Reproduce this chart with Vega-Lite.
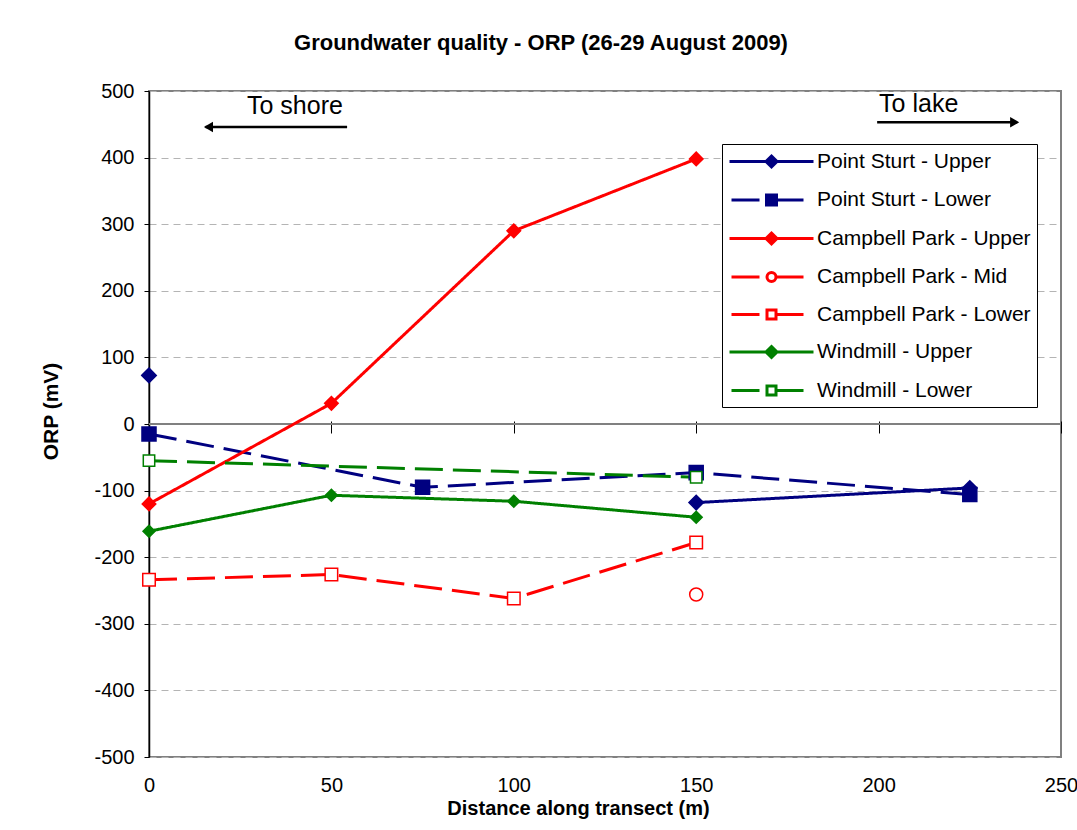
{
  "$schema": "https://vega.github.io/schema/vega-lite/v6.json",
  "width": 912,
  "height": 666,
  "autosize": {"type": "none"},
  "padding": {"left": 149, "top": 91, "right": 16, "bottom": 73},
  "background": "white",
  "title": {
    "text": "Groundwater quality - ORP (26-29 August 2009)",
    "font": "Liberation Sans",
    "fontSize": 22,
    "fontWeight": "bold",
    "color": "black",
    "anchor": "middle",
    "frame": "group",
    "baseline": "alphabetic",
    "offset": 9,
    "dx": -64
  },
  "datasets": {
    "orp": [
      {"series": "Point Sturt - Upper", "distance": 0, "orp": 73},
      {"series": "Point Sturt - Upper", "distance": 50, "orp": null},
      {"series": "Point Sturt - Upper", "distance": 150, "orp": -118},
      {"series": "Point Sturt - Upper", "distance": 225, "orp": -96},
      {"series": "Point Sturt - Lower", "distance": 0, "orp": -15},
      {"series": "Point Sturt - Lower", "distance": 75, "orp": -95},
      {"series": "Point Sturt - Lower", "distance": 150, "orp": -73},
      {"series": "Point Sturt - Lower", "distance": 225, "orp": -106},
      {"series": "Campbell Park - Upper", "distance": 0, "orp": -120},
      {"series": "Campbell Park - Upper", "distance": 50, "orp": 31},
      {"series": "Campbell Park - Upper", "distance": 100, "orp": 290},
      {"series": "Campbell Park - Upper", "distance": 150, "orp": 398},
      {"series": "Campbell Park - Mid", "distance": 150, "orp": -256},
      {"series": "Campbell Park - Lower", "distance": 0, "orp": -234},
      {"series": "Campbell Park - Lower", "distance": 50, "orp": -226},
      {"series": "Campbell Park - Lower", "distance": 100, "orp": -262},
      {"series": "Campbell Park - Lower", "distance": 150, "orp": -178},
      {"series": "Windmill - Upper", "distance": 0, "orp": -161},
      {"series": "Windmill - Upper", "distance": 50, "orp": -107},
      {"series": "Windmill - Upper", "distance": 100, "orp": -116},
      {"series": "Windmill - Upper", "distance": 150, "orp": -140},
      {"series": "Windmill - Lower", "distance": 0, "orp": -55},
      {"series": "Windmill - Lower", "distance": 150, "orp": -80}
    ],
    "notes": [
      {"label": "To shore", "x": 40, "y": 477},
      {"label": "To lake", "x": 211, "y": 480}
    ],
    "arrows": [
      {"x": 15.5, "x2": 54.3, "y": 446},
      {"x": 199.6, "x2": 238, "y": 453}
    ],
    "heads": [
      {"x": 16.3, "y": 446, "dir": "left"},
      {"x": 237.3, "y": 453, "dir": "right"}
    ]
  },
  "layer": [
    {
      "data": {"values": [{}]},
      "mark": {"type": "rule", "color": "#808080", "strokeWidth": 2},
      "encoding": {
        "y": {
          "datum": 0,
          "type": "quantitative",
          "scale": {"domain": [-500, 500], "nice": false},
          "axis": {
            "values": [-500, -400, -300, -200, -100, 0, 100, 200, 300, 400, 500],
            "labelExpr": "datum.value < 0 ? '-' + abs(datum.value) : '' + datum.value",
            "grid": true,
            "gridColor": "#b4b4b4",
            "gridDash": [7, 5],
            "gridWidth": 1,
            "domainColor": "black",
            "domainWidth": 1.5,
            "tickColor": "black",
            "tickSize": 5,
            "labelFont": "Liberation Sans",
            "labelFontSize": 20,
            "labelColor": "black",
            "labelPadding": 10,
            "title": "ORP (mV)",
            "titleFont": "Liberation Sans",
            "titleFontSize": 21,
            "titleFontWeight": "bold",
            "titleColor": "black",
            "titlePadding": 32,
            "titleY": 320
          }
        }
      }
    },
    {
      "data": {"name": "orp"},
      "mark": {"type": "line", "strokeWidth": 3, "invalid": "break-paths-filter-domains"},
      "encoding": {
        "x": {
          "field": "distance",
          "type": "quantitative",
          "scale": {"domain": [0, 250], "nice": false},
          "axis": {
            "values": [0, 50, 100, 150, 200, 250],
            "ticks": false,
            "domain": false,
            "grid": false,
            "labelFont": "Liberation Sans",
            "labelFontSize": 20,
            "labelColor": "black",
            "labelPadding": 18,
            "labelFlush": false,
            "title": "Distance along transect (m)",
            "titleFont": "Liberation Sans",
            "titleFontSize": 20,
            "titleFontWeight": "bold",
            "titleColor": "black",
            "titlePadding": 3,
            "titleX": 429
          }
        },
        "y": {"field": "orp", "type": "quantitative"},
        "stroke": {
          "field": "series",
          "type": "nominal",
          "scale": {
            "domain": ["Point Sturt - Upper", "Point Sturt - Lower", "Campbell Park - Upper", "Campbell Park - Mid", "Campbell Park - Lower", "Windmill - Upper", "Windmill - Lower"],
            "range": ["#000080", "#000080", "#FF0000", "#FF0000", "#FF0000", "#008000", "#008000"]
          },
          "legend": null
        },
        "strokeDash": {
          "field": "series",
          "type": "nominal",
          "scale": {
            "domain": ["Point Sturt - Upper", "Point Sturt - Lower", "Campbell Park - Upper", "Campbell Park - Mid", "Campbell Park - Lower", "Windmill - Upper", "Windmill - Lower"],
            "range": [[1, 0], [28, 10], [1, 0], [28, 10], [28, 10], [1, 0], [28, 10]]
          },
          "legend": null
        }
      }
    },
    {
      "data": {"name": "orp"},
      "mark": {"type": "point", "strokeWidth": 1.5, "opacity": 1},
      "encoding": {
        "x": {
          "field": "distance",
          "type": "quantitative",
          "axis": {
            "orient": "top",
            "offset": -342,
            "values": [0, 50, 100, 150, 200, 250],
            "labels": false,
            "domain": false,
            "grid": false,
            "ticks": true,
            "tickSize": 12,
            "tickColor": "black",
            "tickWidth": 1,
            "title": null
          }
        },
        "y": {"field": "orp", "type": "quantitative"},
        "shape": {
          "field": "series",
          "type": "nominal",
          "scale": {
            "domain": ["Point Sturt - Upper", "Point Sturt - Lower", "Campbell Park - Upper", "Campbell Park - Mid", "Campbell Park - Lower", "Windmill - Upper", "Windmill - Lower"],
            "range": ["diamond", "square", "diamond", "circle", "square", "diamond", "square"]
          },
          "legend": null
        },
        "stroke": {
          "field": "series",
          "type": "nominal",
          "scale": {
            "domain": ["Point Sturt - Upper", "Point Sturt - Lower", "Campbell Park - Upper", "Campbell Park - Mid", "Campbell Park - Lower", "Windmill - Upper", "Windmill - Lower"],
            "range": ["#000080", "#000080", "#FF0000", "#FF0000", "#FF0000", "#008000", "#008000"]
          },
          "legend": null
        },
        "fill": {
          "field": "series",
          "type": "nominal",
          "scale": {
            "domain": ["Point Sturt - Upper", "Point Sturt - Lower", "Campbell Park - Upper", "Campbell Park - Mid", "Campbell Park - Lower", "Windmill - Upper", "Windmill - Lower"],
            "range": ["#000080", "#000080", "#FF0000", "#FFFFFF", "#FFFFFF", "#008000", "#FFFFFF"]
          },
          "legend": null
        },
        "size": {
          "field": "series",
          "type": "nominal",
          "scale": {
            "domain": ["Point Sturt - Upper", "Point Sturt - Lower", "Campbell Park - Upper", "Campbell Park - Mid", "Campbell Park - Lower", "Windmill - Upper", "Windmill - Lower"],
            "range": [210, 130, 210, 110, 110, 210, 110]
          },
          "legend": null
        }
      }
    },
    {
      "data": {"name": "arrows"},
      "mark": {"type": "rule", "color": "black", "strokeWidth": 2.5},
      "encoding": {
        "x": {"field": "x", "type": "quantitative", "axis": null},
        "x2": {"field": "x2"},
        "y": {"field": "y", "type": "quantitative"}
      }
    },
    {
      "data": {"name": "heads"},
      "mark": {"type": "point", "filled": true, "color": "black", "size": 110, "opacity": 1},
      "encoding": {
        "x": {"field": "x", "type": "quantitative", "axis": null},
        "y": {"field": "y", "type": "quantitative"},
        "shape": {
          "field": "dir",
          "type": "nominal",
          "scale": {"domain": ["left", "right"], "range": ["triangle-left", "triangle-right"]},
          "legend": null
        }
      }
    },
    {
      "data": {"name": "notes"},
      "mark": {"type": "text", "font": "Liberation Sans", "fontSize": 25, "color": "black", "baseline": "middle", "align": "center"},
      "encoding": {
        "x": {"field": "x", "type": "quantitative", "axis": null},
        "y": {"field": "y", "type": "quantitative"},
        "text": {"field": "label"}
      }
    },
    {
      "data": {"name": "orp"},
      "transform": [{"filter": "datum.orp > 100000"}],
      "mark": {"type": "point", "opacity": 1},
      "encoding": {
        "x": {"field": "distance", "type": "quantitative", "axis": null},
        "y": {"field": "orp", "type": "quantitative"},
        "shape": {
          "field": "series",
          "type": "nominal",
          "scale": {
            "domain": ["Point Sturt - Upper", "Point Sturt - Lower", "Campbell Park - Upper", "Campbell Park - Mid", "Campbell Park - Lower", "Windmill - Upper", "Windmill - Lower"],
            "range": [
              "M-1,0L7.4,0M3.2,-0.55L3.75,0L3.2,0.55L2.65,0Z",
              "M-0.8,0L2,0M3.7,0L6.4,0M2.7,-0.5L3.7,-0.5L3.7,0.5L2.7,0.5Z",
              "M-1,0L7.4,0M3.2,-0.55L3.75,0L3.2,0.55L2.65,0Z",
              "M-0.8,0L2,0M3.75,0L6.4,0M3.65,0A0.45,0.45 0 1 1 2.75,0A0.45,0.45 0 1 1 3.65,0Z",
              "M-0.8,0L2,0M3.75,0L6.4,0M2.75,-0.45L3.65,-0.45L3.65,0.45L2.75,0.45Z",
              "M-1,0L7.4,0M3.2,-0.55L3.75,0L3.2,0.55L2.65,0Z",
              "M-0.8,0L2,0M3.75,0L6.4,0M2.75,-0.45L3.65,-0.45L3.65,0.45L2.75,0.45Z"
            ]
          },
          "legend": {
            "orient": "none",
            "legendX": 573,
            "legendY": 53,
            "title": null,
            "padding": 6,
            "strokeColor": "black",
            "fillColor": "white",
            "symbolSize": 400,
            "symbolStrokeWidth": 3,
            "labelFont": "Liberation Sans",
            "labelFontSize": 21,
            "labelColor": "black",
            "labelOffset": 66,
            "labelLimit": 400,
            "rowPadding": 15.5
          }
        },
        "stroke": {
          "field": "series",
          "type": "nominal",
          "scale": {
            "domain": ["Point Sturt - Upper", "Point Sturt - Lower", "Campbell Park - Upper", "Campbell Park - Mid", "Campbell Park - Lower", "Windmill - Upper", "Windmill - Lower"],
            "range": ["#000080", "#000080", "#FF0000", "#FF0000", "#FF0000", "#008000", "#008000"]
          }
        },
        "fill": {
          "field": "series",
          "type": "nominal",
          "scale": {
            "domain": ["Point Sturt - Upper", "Point Sturt - Lower", "Campbell Park - Upper", "Campbell Park - Mid", "Campbell Park - Lower", "Windmill - Upper", "Windmill - Lower"],
            "range": ["#000080", "#000080", "#FF0000", "#FFFFFF", "#FFFFFF", "#008000", "#FFFFFF"]
          }
        }
      }
    }
  ],
  "resolve": {
    "scale": {"shape": "independent", "stroke": "independent", "fill": "independent", "strokeDash": "independent", "size": "independent"},
    "axis": {"x": "independent"}
  },
  "config": {
    "view": {"stroke": "#808080", "strokeWidth": 2},
    "font": "Liberation Sans"
  }
}
